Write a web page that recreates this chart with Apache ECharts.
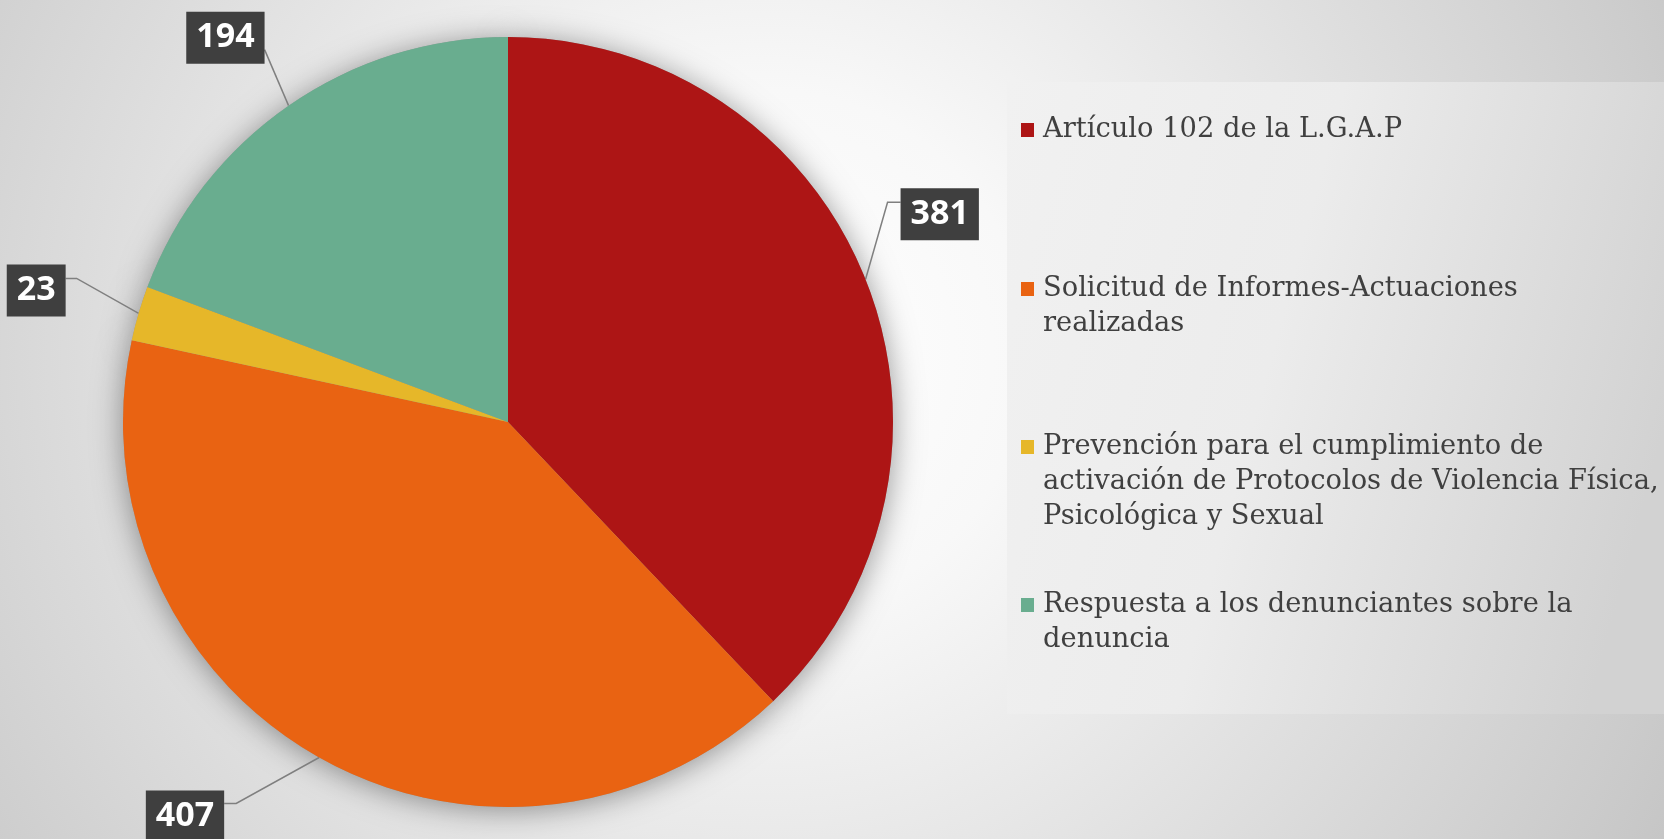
<!DOCTYPE html>
<html>
<head>
<meta charset="utf-8">
<script src="https://cdn.jsdelivr.net/npm/echarts@6/dist/echarts.min.js"></script>
<style>
  html, body {
    margin: 0;
    padding: 0;
  }
  #chart-box {
    width: 1664px;
    height: 839px;
    background: radial-gradient(circle 1050px at 46% 42%, #ffffff 0%, #f8f8f8 25%, #c4c4c4 100%);
  }
</style>
</head>
<body>
<div id="chart-box"></div>
<script>
const categories = [
  'Artículo 102 de la L.G.A.P',
  'Solicitud de Informes-Actuaciones\nrealizadas',
  'Prevención para el cumplimiento de\nactivación de Protocolos de Violencia Física,\nPsicológica y Sexual',
  'Respuesta a los denunciantes sobre la\ndenuncia'
];
const values = [381, 407, 23, 194];
const colors = ['#ad1515', '#e96312', '#e6b729', '#69ad8f'];

// leader lines: bend offset from the slice edge, horizontal run, where the line meets the box
const leaderBend = [[22, -77], [-83, 46], [-62, -35], [-24, -56]];
const leaderRun = [13, -12, -11, 0];
const leaderDrop = [14, 13, 14, 38];

// legend: centre of the first text line of each entry
const legendLineCenters = [134, 293, 451, 609];
const LINE_H = 35;

let chart = echarts.init(document.getElementById('chart-box'));

function legendText(name) {
  return name.split('\n').map((line, k) => (k === 0 ? '{m|}{g|}' : '{i|}') + '{t|' + line + '}').join('\n');
}

let options = {
  graphic: [
    {
      type: 'rect',
      left: 1007,
      top: 82,
      z: -10,
      shape: { width: 700, height: 632 },
      style: {
        fill: new echarts.graphic.LinearGradient(0, 0, 1, 0.3, [
          { offset: 0, color: '#f1f1f1' },
          { offset: 0.45, color: '#ececec' },
          { offset: 1, color: '#d2d2d2' }
        ])
      }
    }
  ],
  legend: categories.map((name, i) => ({
    data: [name],
    orient: 'vertical',
    left: 1016,
    top: legendLineCenters[i] - LINE_H / 2,
    padding: 0,
    icon: 'none',
    itemWidth: 0,
    itemHeight: 14,
    selectedMode: false,
    formatter: legendText,
    textStyle: {
      rich: {
        m: { width: 13, height: 14, backgroundColor: colors[i] },
        g: { width: 9 },
        i: { width: 22 },
        t: {
          fontFamily: 'DejaVu Serif',
          fontSize: 27.3,
          color: '#404040',
          lineHeight: LINE_H
        }
      }
    }
  })),
  series: [
    {
      type: 'pie',
      z: 3,
      center: [508, 422],
      radius: 385,
      startAngle: 90,
      avoidLabelOverlap: false,
      data: categories.map((name, i) => ({
        name: name,
        value: values[i],
        itemStyle: { color: colors[i] }
      })),
      emphasis: { scale: false },
      label: {
        show: true,
        position: 'outside',
        formatter: '{c}',
        color: '#ffffff',
        fontFamily: 'Open Sans',
        fontWeight: 'bold',
        fontSize: 34,
        lineHeight: 38,
        backgroundColor: '#3f3f3f',
        padding: [7, 10]
      },
      labelLine: {
        show: true,
        length: 20,
        length2: 10,
        lineStyle: { color: '#7f7f7f', width: 1.5 }
      },
      labelLayout: function (params) {
        const i = params.dataIndex;
        const p0 = params.labelLinePoints[0];
        const p1 = [p0[0] + leaderBend[i][0], p0[1] + leaderBend[i][1]];
        const p2 = [p1[0] + leaderRun[i], p1[1]];
        const w = params.labelRect.width;
        return {
          x: leaderRun[i] > 0 ? p2[0] : p2[0] - w,
          y: p2[1] - leaderDrop[i],
          align: 'left',
          verticalAlign: 'top',
          labelLinePoints: [p0, p1, p2]
        };
      }
    },
    {
      // same slices underneath, only to cast the soft shadow round the pie
      type: 'pie',
      z: 1,
      silent: true,
      center: [508, 422],
      radius: 385,
      startAngle: 90,
      data: values,
      label: { show: false },
      labelLine: { show: false },
      itemStyle: {
        color: '#9a9a9a',
        shadowBlur: 30,
        shadowOffsetY: 3,
        shadowColor: 'rgba(0, 0, 0, 0.4)'
      }
    }
  ]
};

chart.setOption(options);
</script>
</body>
</html>
